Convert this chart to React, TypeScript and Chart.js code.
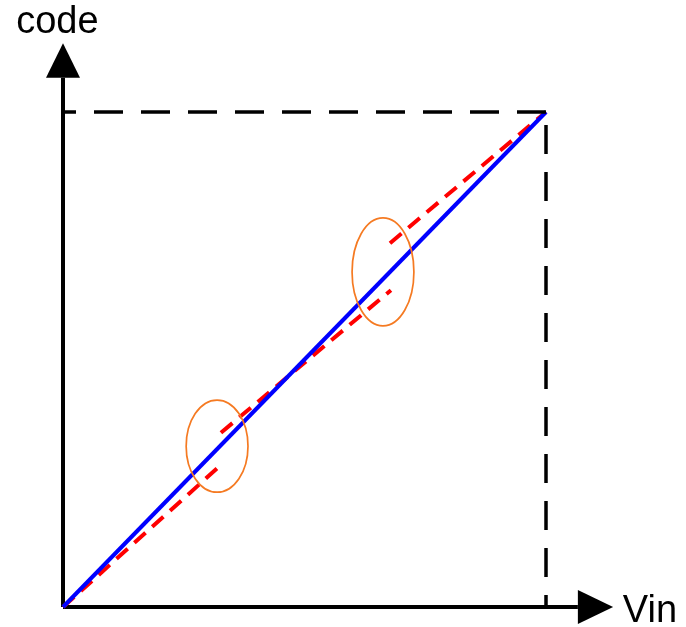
import React, { useEffect, useRef } from "react";
import { Chart, registerables } from "chart.js";

Chart.register(...registerables);

// Data units: Vin and code both normalised so that full scale = 1
const idealX = [0, 1];
const idealY = [0, 1];

const realSeg1X = [0, 0.327];
const realSeg1Y = [0, 0.287];
const realSeg2X = [0.327, 0.679];
const realSeg2Y = [0.352, 0.64];
const realSeg3X = [0.677, 1];
const realSeg3Y = [0.735, 1];

const fullScaleHX = [1, 0];
const fullScaleHY = [1, 1];
const fullScaleVX = [1, 1];
const fullScaleVY = [1, 0];

const xAxisX = [0, 1.066];
const xAxisY = [0, 0];
const yAxisX = [0, 0];
const yAxisY = [0, 1.069];

// arrows: base x, base y, tip x, tip y
const arrowBaseX = [1.066, 0];
const arrowBaseY = [0, 1.069];
const arrowTipX = [1.139, 0];
const arrowTipY = [0, 1.139];

// ellipses (error regions): centre x, centre y, radius x, radius y
const ellipseCX = [0.319, 0.6625];
const ellipseCY = [0.325, 0.677];
const ellipseRX = [0.064, 0.064];
const ellipseRY = [0.093, 0.109];

const labelTexts = ["code", "Vin"];
const labelX = [-0.097, 1.159];
const labelY = [1.16, -0.031];

const toPts = (xs: number[], ys: number[]) => xs.map((x, i) => ({ x, y: ys[i] }));

const decorPlugin = {
  id: "decor",
  afterDatasetsDraw(chart: any) {
    const ctx = chart.ctx as CanvasRenderingContext2D;
    const xs = chart.scales.x;
    const ys = chart.scales.y;
    ctx.save();
    // ellipses
    ctx.strokeStyle = "#F57A22";
    ctx.lineWidth = 1.7;
    for (let i = 0; i < ellipseCX.length; i++) {
      const cx = xs.getPixelForValue(ellipseCX[i]);
      const cy = ys.getPixelForValue(ellipseCY[i]);
      const rx = Math.abs(xs.getPixelForValue(ellipseCX[i] + ellipseRX[i]) - cx);
      const ry = Math.abs(ys.getPixelForValue(ellipseCY[i] + ellipseRY[i]) - cy);
      ctx.beginPath();
      ctx.ellipse(cx, cy, rx, ry, 0, 0, Math.PI * 2);
      ctx.stroke();
    }
    // arrows
    ctx.fillStyle = "#000";
    for (let i = 0; i < arrowBaseX.length; i++) {
      const bx = xs.getPixelForValue(arrowBaseX[i]);
      const by = ys.getPixelForValue(arrowBaseY[i]);
      const tx = xs.getPixelForValue(arrowTipX[i]);
      const ty = ys.getPixelForValue(arrowTipY[i]);
      const len = Math.hypot(tx - bx, ty - by);
      const ux = (tx - bx) / len;
      const uy = (ty - by) / len;
      const hw = 17;
      ctx.beginPath();
      ctx.moveTo(tx, ty);
      ctx.lineTo(bx - uy * hw, by + ux * hw);
      ctx.lineTo(bx + uy * hw, by - ux * hw);
      ctx.closePath();
      ctx.fill();
    }
    // labels
    ctx.font = '38px "Liberation Sans", Arial, sans-serif';
    ctx.textAlign = "left";
    ctx.textBaseline = "alphabetic";
    for (let i = 0; i < labelTexts.length; i++) {
      ctx.fillText(labelTexts[i], xs.getPixelForValue(labelX[i]), ys.getPixelForValue(labelY[i]));
    }
    ctx.restore();
  },
};

export default function App() {
  const ref = useRef<HTMLCanvasElement | null>(null);
  useEffect(() => {
    if (!ref.current) return;
    const line = (xs: number[], ys: number[], color: string, width: number, dash: number[] = [], offset = 0) => ({
      data: toPts(xs, ys),
      showLine: true,
      borderColor: color,
      backgroundColor: color,
      borderWidth: width,
      borderDash: dash,
      borderDashOffset: offset,
      borderCapStyle: "butt",
      pointRadius: 0,
      tension: 0,
      clip: false,
    });
    const chart = new Chart(ref.current, {
      type: "scatter",
      data: {
        datasets: [
          line(fullScaleHX, fullScaleHY, "#000", 3.5, [29, 18]),
          line(fullScaleVX, fullScaleVY, "#000", 3.5, [29, 18], 34),
          line(idealX, idealY, "#0000FF", 4),
          line(realSeg1X, realSeg1Y, "#FF0000", 4, [15, 9]),
          line(realSeg2X, realSeg2Y, "#FF0000", 4, [15, 9]),
          line(realSeg3X, realSeg3Y, "#FF0000", 4, [15, 9]),
          line(xAxisX, xAxisY, "#000", 4),
          line(yAxisX, yAxisY, "#000", 4),
        ] as any,
      },
      options: {
        responsive: false,
        animation: false,
        layout: { padding: { left: 63, right: 140, top: 112, bottom: 20 } },
        scales: {
          x: { type: "linear", min: 0, max: 1, display: false },
          y: { type: "linear", min: 0, max: 1, display: false },
        },
        plugins: { legend: { display: false }, tooltip: { enabled: false }, title: { display: false } },
        events: [],
      },
      plugins: [decorPlugin],
    });
    return () => chart.destroy();
  }, []);
  return (
    <div style={{ position: "fixed", left: 0, top: 0, width: 686, height: 627, background: "#fff" }}>
      <canvas ref={ref} width={686} height={627} style={{ display: "block" }} />
    </div>
  );
}
